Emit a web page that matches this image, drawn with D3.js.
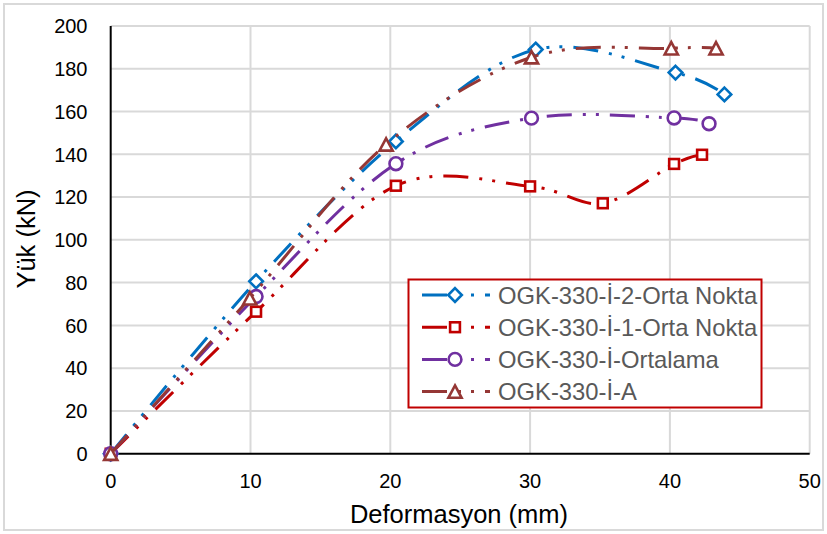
<!DOCTYPE html>
<html lang="tr">
<head>
    <meta charset="UTF-8">
    <title>Yük - Deformasyon</title>
    <style>
        body {
            margin: 0;
            padding: 0;
            background: #ffffff;
            font-family: "Liberation Sans", Arial, sans-serif;
        }
        .grid line {
            stroke: #d9d9d9;
            stroke-width: 2;
        }
        .tick-label {
            font-size: 20px;
            fill: #000;
        }
        .axis-title {
            font-size: 25.5px;
            fill: #000;
        }
        .legend-text {
            font-size: 23.8px;
            fill: #595959;
        }
    </style>
</head>
<body>
    <svg id="chart" width="827" height="534"></svg>

    <script src="https://cdnjs.cloudflare.com/ajax/libs/d3/7.8.5/d3.min.js"></script>
    <script>
        // values
        const xTicks = [0, 10, 20, 30, 40, 50];
        const yTicks = [0, 20, 40, 60, 80, 100, 120, 140, 160, 180, 200];

        const seriesNames = ['OGK-330-İ-2-Orta Nokta', 'OGK-330-İ-1-Orta Nokta', 'OGK-330-İ-Ortalama', 'OGK-330-İ-A'];

        const orta2X = [0, 10.4, 20.4, 30.4, 40.4, 43.9];
        const orta2Y = [0, 80.6, 146, 189, 178.2, 168];

        const orta1X = [0, 10.4, 20.4, 30, 35.2, 40.3, 42.3];
        const orta1Y = [0, 66.4, 125.3, 125, 117.1, 135.5, 139.8];

        const ortalamaX = [0, 10.4, 20.4, 30.1, 40.3, 42.8];
        const ortalamaY = [0, 73.5, 135.6, 156.9, 157, 154.3];

        const aX = [0, 9.95, 19.7, 30.1, 40.1, 43.3];
        const aY = [0, 72.7, 144.6, 185.4, 189.6, 189.6];

        const series = [
            { name: seriesNames[0], xs: orta2X, ys: orta2Y, color: '#0070c0', marker: 'diamond' },
            { name: seriesNames[1], xs: orta1X, ys: orta1Y, color: '#c00000', marker: 'square' },
            { name: seriesNames[2], xs: ortalamaX, ys: ortalamaY, color: '#7030a0', marker: 'circle' },
            { name: seriesNames[3], xs: aX, ys: aY, color: '#953735', marker: 'triangle' }
        ];

        const svg = d3.select('#chart');

        // chart border
        svg.append('rect')
            .attr('x', 4).attr('y', 4)
            .attr('width', 819).attr('height', 526)
            .attr('fill', '#fff')
            .attr('stroke', '#d9d9d9')
            .attr('stroke-width', 2);

        const x = d3.scaleLinear().domain([0, 50]).range([110.7, 809.7]);
        const y = d3.scaleLinear().domain([0, 200]).range([453.7, 26]);

        // gridlines
        const grid = svg.append('g').attr('class', 'grid');
        grid.selectAll('.h')
            .data(yTicks.filter(d => d > 0))
            .enter().append('line')
            .attr('x1', x(0)).attr('x2', x(50))
            .attr('y1', d => y(d)).attr('y2', d => y(d));
        grid.selectAll('.v')
            .data(xTicks.filter(d => d > 0))
            .enter().append('line')
            .attr('x1', d => x(d)).attr('x2', d => x(d))
            .attr('y1', y(0)).attr('y2', y(200));

        // axis lines
        svg.append('line')
            .attr('x1', x(0)).attr('x2', x(0))
            .attr('y1', y(0)).attr('y2', y(200))
            .attr('stroke', '#000').attr('stroke-width', 2);
        svg.append('line')
            .attr('x1', x(0)).attr('x2', x(50))
            .attr('y1', y(0)).attr('y2', y(0))
            .attr('stroke', '#000').attr('stroke-width', 2);

        // tick labels
        svg.selectAll('.ytick')
            .data(yTicks)
            .enter().append('text')
            .attr('class', 'tick-label')
            .attr('x', 87.5)
            .attr('y', d => y(d))
            .attr('dy', '0.36em')
            .attr('text-anchor', 'end')
            .text(d => d);

        svg.selectAll('.xtick')
            .data(xTicks)
            .enter().append('text')
            .attr('class', 'tick-label')
            .attr('x', d => x(d))
            .attr('y', 487.5)
            .attr('text-anchor', 'middle')
            .text(d => d);

        // axis titles
        svg.append('text')
            .attr('class', 'axis-title')
            .attr('x', 459)
            .attr('y', 523)
            .attr('text-anchor', 'middle')
            .text('Deformasyon (mm)');

        svg.append('text')
            .attr('class', 'axis-title')
            .attr('transform', 'translate(35,239) rotate(-90)')
            .attr('text-anchor', 'middle')
            .text('Yük (kN)');

        // series
        const dash = '25,11,3,10,3,11';
        const line = d3.line()
            .x(d => x(d[0]))
            .y(d => y(d[1]))
            .curve(d3.curveCardinal.tension(0));

        function drawMarker(g, type, color, cx, cy) {
            const m = g.append('g').attr('transform', `translate(${cx},${cy})`);
            const style = s => s.attr('fill', '#fff').attr('stroke', color).attr('stroke-width', 2.6);
            if (type === 'diamond') {
                style(m.append('path').attr('d', 'M0,-6.8L6.8,0L0,6.8L-6.8,0Z'));
            } else if (type === 'square') {
                style(m.append('rect').attr('x', -4.9).attr('y', -4.9).attr('width', 9.8).attr('height', 9.8));
            } else if (type === 'circle') {
                style(m.append('circle').attr('r', 6.4));
            } else {
                style(m.append('path').attr('d', 'M0,-6.2L6.6,6.2L-6.6,6.2Z'));
            }
        }

        series.forEach(s => {
            const pts = s.xs.map((v, i) => [v, s.ys[i]]);
            const g = svg.append('g');
            g.append('path')
                .datum(pts)
                .attr('d', line)
                .attr('fill', 'none')
                .attr('stroke', s.color)
                .attr('stroke-width', 3)
                .attr('stroke-dasharray', dash);
            pts.forEach(p => drawMarker(g, s.marker, s.color, x(p[0]), y(p[1])));
        });

        // legend
        const legend = svg.append('g');
        legend.append('rect')
            .attr('x', 408.5).attr('y', 279.5)
            .attr('width', 353).attr('height', 128)
            .attr('fill', '#fff')
            .attr('stroke', '#c00000')
            .attr('stroke-width', 2);

        series.forEach((s, i) => {
            const ly = 295 + i * 32.2;
            legend.append('line')
                .attr('x1', 422).attr('x2', 490)
                .attr('y1', ly).attr('y2', ly)
                .attr('stroke', s.color)
                .attr('stroke-width', 3)
                .attr('stroke-dasharray', dash);
            drawMarker(legend, s.marker, s.color, 455, ly);
            legend.append('text')
                .attr('class', 'legend-text')
                .attr('x', 498)
                .attr('y', ly)
                .attr('dy', '0.36em')
                .text(s.name);
        });
    </script>
</body>
</html>
